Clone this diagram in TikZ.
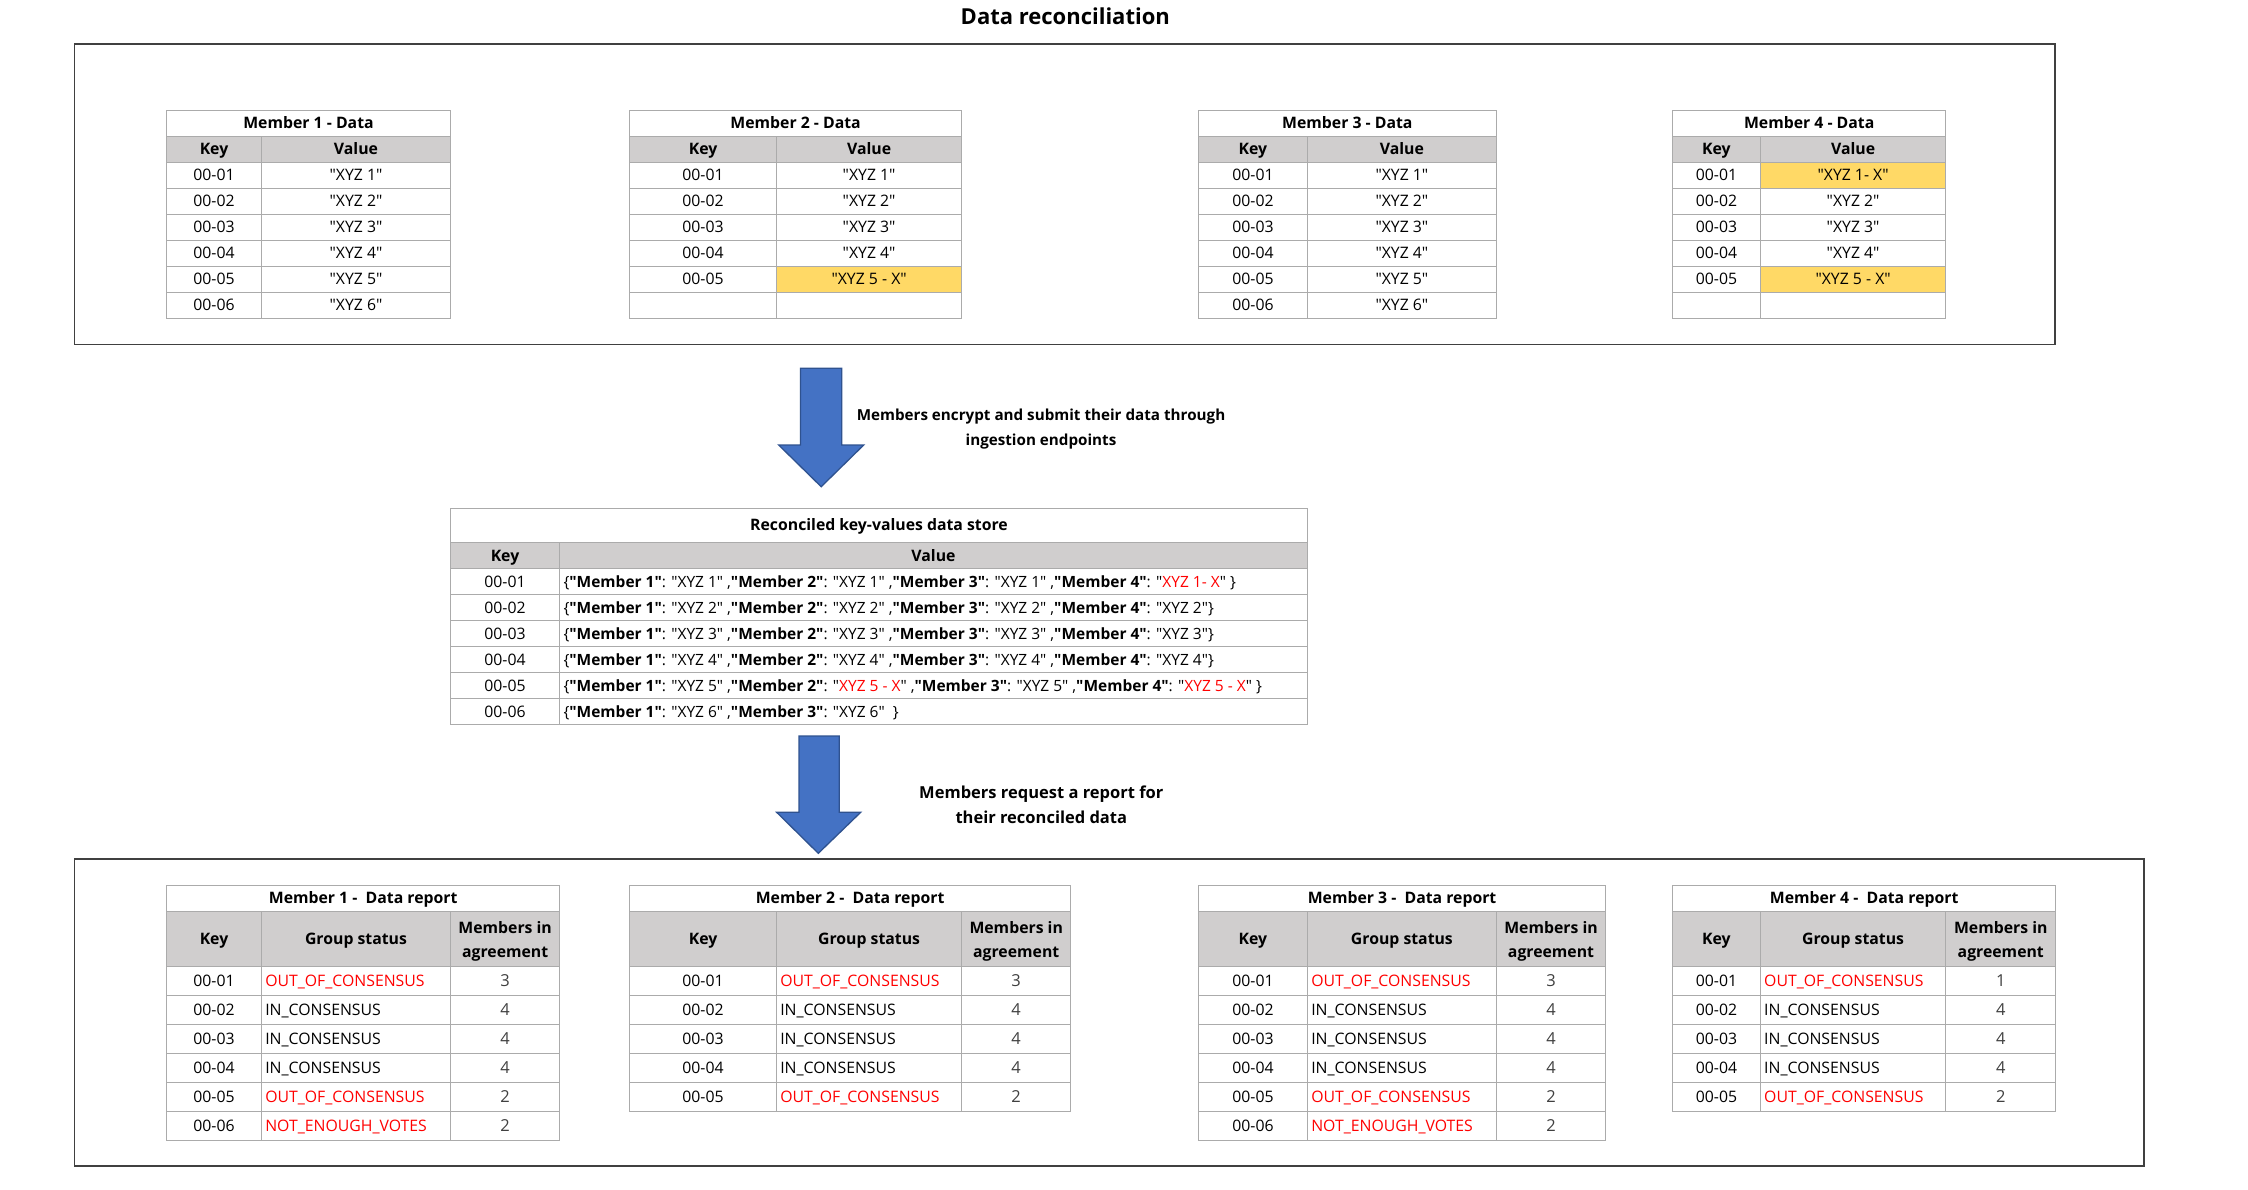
\documentclass[tikz,border=0pt]{standalone}
\usepackage{fontspec}
\setmainfont{Open Sans}[Ligatures=TeXOff]
\definecolor{hdrgray}{HTML}{D0CECE}
\definecolor{gridgray}{HTML}{ABABAB}
\definecolor{boxgray}{HTML}{404040}
\definecolor{hilite}{HTML}{FFD966}
\definecolor{rd}{HTML}{FF0000}
\definecolor{arrowfill}{HTML}{4472C4}
\definecolor{arrowline}{HTML}{2F528F}
\definecolor{numgray}{HTML}{404040}
\newcommand\fs{\fontsize{15.8}{19}\selectfont}
% bold member label and red value inside the reconciled store
\newcommand\mm[1]{\textbf{"Member #1"}}
\newcommand\xr[1]{\textcolor{rd}{#1}}
\tikzset{
  gridline/.style={draw=gridgray, line width=1.3pt},
  frame/.style={draw=boxgray, line width=1.6pt},
  celltext/.style={inner sep=0pt, anchor=base, font=\fs},
  cellbold/.style={celltext, font=\fs\bfseries},
  leftcell/.style={celltext, anchor=base west},
  storeval/.style={leftcell, font=\fontsize{15.5}{19}\selectfont},
  blockarrow/.style={fill=arrowfill, draw=arrowline, line width=1.3pt, line join=miter},
}
% member data table: id, left, divider, right, title, rows key/value/fill
\newcommand\kvtable[6]{%
  \fill[hdrgray] (#2,136.3) rectangle (#4,162.3);
  \foreach \ckey/\cval/\cfill [count=\i] in {#6}{%
    \pgfmathsetmacro\yt{162.3+26*(\i-1)}%
    \fill[\cfill] (#3,\yt) rectangle (#4,\yt+26);
    \node[celltext] (#1k\i) at ({(#2+#3)/2},\yt+18.6) {\ckey};
    \node[celltext] (#1v\i) at ({(#3+#4)/2},\yt+18.6) {\cval};
    \draw[gridline] (#2,\yt) -- (#4,\yt);
  }
  \draw[gridline] (#2,110.3) rectangle (#4,318.3);
  \draw[gridline] (#2,136.3) -- (#4,136.3);
  \draw[gridline] (#3,136.3) -- (#3,318.3);
  \node[cellbold] (#1t) at ({(#2+#4)/2},128.9) {#5};
  \node[cellbold] (#1hk) at ({(#2+#3)/2},154.9) {Key};
  \node[cellbold] (#1hv) at ({(#3+#4)/2},154.9) {Value};
}
% member report table: id, x0, x1, x2, x3, title, number of rows, rows key/status/colour/count
\newcommand\reptable[8]{%
  \fill[hdrgray] (#2,911.3) rectangle (#5,966.3);
  \foreach \ckey/\cstat/\ccol/\cnum [count=\i] in {#8}{%
    \pgfmathsetmacro\yt{966.3+29*(\i-1)}%
    \node[celltext] (#1k\i) at ({(#2+#3)/2},\yt+20.1) {\ckey};
    \node[leftcell, text=\ccol] (#1s\i) at (#3+3.6,\yt+20.1) {\cstat};
    \node[celltext, text=numgray, font=\fontsize{16.5}{19}\selectfont] (#1n\i) at ({(#4+#5)/2},\yt+19.8) {\cnum};
    \draw[gridline] (#2,\yt) -- (#5,\yt);
  }
  \pgfmathsetmacro\yb{966.3+29*#7}
  \draw[gridline] (#2,885.3) rectangle (#5,\yb);
  \draw[gridline] (#2,911.3) -- (#5,911.3);
  \draw[gridline] (#3,911.3) -- (#3,\yb);
  \draw[gridline] (#4,911.3) -- (#4,\yb);
  \node[cellbold] (#1t) at ({(#2+#5)/2},903.9) {#6};
  \node[cellbold] (#1hk) at ({(#2+#3)/2},944.4) {Key};
  \node[cellbold] (#1hs) at ({(#3+#4)/2},944.4) {Group status};
  \node[cellbold] (#1ha) at ({(#4+#5)/2},933.3) {Members in};
  \node[cellbold] (#1hb) at ({(#4+#5)/2},957.3) {agreement};
}
\begin{document}
\begin{tikzpicture}[x=1pt,y=-1pt]
\fill[white] (0,0) rectangle (2248,1190);
\useasboundingbox (0,0) rectangle (2248,1190);

\node[font=\fontsize{22}{26}\selectfont\bfseries, anchor=base, inner sep=0pt] (title) at (1065.3,24.3) {Data reconciliation};

% ---------- members' own data ----------
\draw[frame] (74.3,44.3) rectangle (2055,344.3);
\kvtable{da}{166.5}{261.5}{450.5}{Member 1 - Data}{
  00-01/"XYZ 1"/white, 00-02/"XYZ 2"/white, 00-03/"XYZ 3"/white,
  00-04/"XYZ 4"/white, 00-05/"XYZ 5"/white, 00-06/"XYZ 6"/white}
\kvtable{db}{629.5}{776.5}{961.7}{Member 2 - Data}{
  00-01/"XYZ 1"/white, 00-02/"XYZ 2"/white, 00-03/"XYZ 3"/white,
  00-04/"XYZ 4"/white, 00-05/"XYZ 5 - X"/hilite, {}/{}/white}
\kvtable{dc}{1198.4}{1307.5}{1496.3}{Member 3 - Data}{
  00-01/"XYZ 1"/white, 00-02/"XYZ 2"/white, 00-03/"XYZ 3"/white,
  00-04/"XYZ 4"/white, 00-05/"XYZ 5"/white, 00-06/"XYZ 6"/white}
\kvtable{dd}{1672.5}{1760.4}{1945.8}{Member 4 - Data}{
  00-01/"XYZ 1- X"/hilite, 00-02/"XYZ 2"/white, 00-03/"XYZ 3"/white,
  00-04/"XYZ 4"/white, 00-05/"XYZ 5 - X"/hilite, {}/{}/white}

% ---------- submission arrow ----------
\draw[blockarrow] (800.5,368.3) -- (841.8,368.3) -- (841.8,445) -- (863.7,445)
  -- (821.2,486.7) -- (778.7,445) -- (800.5,445) -- cycle;
\node[cellbold, font=\fontsize{15.2}{19}\selectfont\bfseries] (sub1) at (1041,420.5) {Members encrypt and submit their data through};
\node[cellbold, font=\fontsize{15.2}{19}\selectfont\bfseries] (sub2) at (1041,445) {ingestion endpoints};

% ---------- reconciled store ----------
\fill[hdrgray] (450.5,542.3) rectangle (1307.5,568.7);
\foreach \i in {0,...,5}{
  \draw[gridline] (450.5,568.7+26*\i) -- (1307.5,568.7+26*\i);
}
\draw[gridline] (450.5,508.3) rectangle (1307.5,724.7);
\draw[gridline] (450.5,542.3) -- (1307.5,542.3);
\draw[gridline] (559.5,542.3) -- (559.5,724.7);
\node[cellbold] (rt) at (879,530.9) {Reconciled key-values data store};
\node[cellbold] (rhk) at (505,561.1) {Key};
\node[cellbold] (rhv) at (933.5,561.1) {Value};
\foreach \i in {1,...,6}{
  \node[celltext] (rk\i) at (505,568.7+26*\i-7.4) {00-0\i};
}
\node[storeval] (rv1) at (563.3,587.3) {\{\mm{1}: "XYZ 1" ,\mm{2}: "XYZ 1" ,\mm{3}: "XYZ 1" ,\mm{4}: "\xr{XYZ 1- X}" \}};
\node[storeval] (rv2) at (563.3,613.3) {\{\mm{1}: "XYZ 2" ,\mm{2}: "XYZ 2" ,\mm{3}: "XYZ 2" ,\mm{4}: "XYZ 2"\}};
\node[storeval] (rv3) at (563.3,639.3) {\{\mm{1}: "XYZ 3" ,\mm{2}: "XYZ 3" ,\mm{3}: "XYZ 3" ,\mm{4}: "XYZ 3"\}};
\node[storeval] (rv4) at (563.3,665.3) {\{\mm{1}: "XYZ 4" ,\mm{2}: "XYZ 4" ,\mm{3}: "XYZ 4" ,\mm{4}: "XYZ 4"\}};
\node[storeval] (rv5) at (563.3,691.3) {\{\mm{1}: "XYZ 5" ,\mm{2}: "\xr{XYZ 5 - X}" ,\mm{3}: "XYZ 5" ,\mm{4}: "\xr{XYZ 5 - X}" \}};
\node[storeval] (rv6) at (563.3,717.3) {\{\mm{1}: "XYZ 6" ,\mm{3}: "XYZ 6"\ \ \}};

% ---------- report arrow ----------
\draw[blockarrow] (799,736) -- (839.3,736) -- (839.3,812.3) -- (860.7,812.3)
  -- (818.3,853.3) -- (776.7,812.3) -- (799,812.3) -- cycle;
\node[cellbold, font=\fontsize{16.5}{19}\selectfont\bfseries] (req1) at (1041.3,798.3) {Members request a report for};
\node[cellbold, font=\fontsize{16.5}{19}\selectfont\bfseries] (req2) at (1041.3,823.3) {their reconciled data};

% ---------- member reports ----------
\draw[frame] (74.3,859) rectangle (2143.7,1166);
\reptable{ra}{166.5}{261.5}{450.5}{559.8}{Member 1 -\ \ Data report}{6}{
  00-01/OUT\_OF\_CONSENSUS/rd/3, 00-02/IN\_CONSENSUS/black/4,
  00-03/IN\_CONSENSUS/black/4, 00-04/IN\_CONSENSUS/black/4,
  00-05/OUT\_OF\_CONSENSUS/rd/2, 00-06/NOT\_ENOUGH\_VOTES/rd/2}
\reptable{rb}{629.5}{776.5}{961.7}{1070.7}{Member 2 -\ \ Data report}{5}{
  00-01/OUT\_OF\_CONSENSUS/rd/3, 00-02/IN\_CONSENSUS/black/4,
  00-03/IN\_CONSENSUS/black/4, 00-04/IN\_CONSENSUS/black/4,
  00-05/OUT\_OF\_CONSENSUS/rd/2}
\reptable{rc}{1198.4}{1307.5}{1496.3}{1605.7}{Member 3 -\ \ Data report}{6}{
  00-01/OUT\_OF\_CONSENSUS/rd/3, 00-02/IN\_CONSENSUS/black/4,
  00-03/IN\_CONSENSUS/black/4, 00-04/IN\_CONSENSUS/black/4,
  00-05/OUT\_OF\_CONSENSUS/rd/2, 00-06/NOT\_ENOUGH\_VOTES/rd/2}
\reptable{rd}{1672.5}{1760.4}{1945.8}{2055.7}{Member 4 -\ \ Data report}{5}{
  00-01/OUT\_OF\_CONSENSUS/rd/1, 00-02/IN\_CONSENSUS/black/4,
  00-03/IN\_CONSENSUS/black/4, 00-04/IN\_CONSENSUS/black/4,
  00-05/OUT\_OF\_CONSENSUS/rd/2}
\end{tikzpicture}
\end{document}
